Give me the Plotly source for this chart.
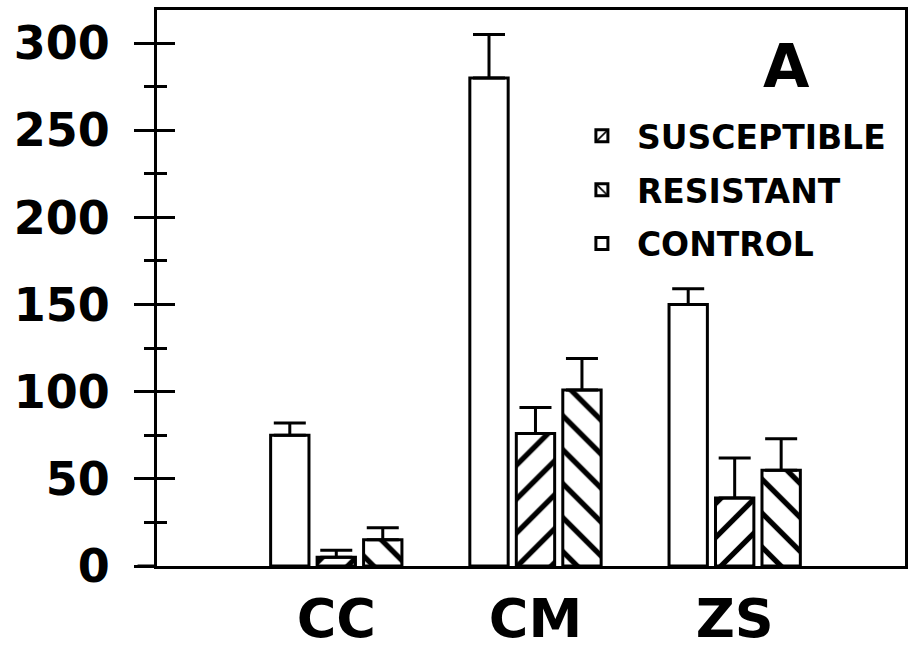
import plotly.graph_objects as go

categories = ["CC", "CM", "ZS"]

control = [75, 280, 150]
control_err = [7, 25, 9]

susceptible = [5, 76, 39]
susceptible_err = [4, 15, 23]

resistant = [15, 101, 55]
resistant_err = [7, 18, 18]

y_ticks = [0, 50, 100, 150, 200, 250, 300]

FONT = "DejaVu Sans"


def err(vals):
    return dict(type="data", array=vals, arrayminus=[0] * len(vals), symmetric=False,
                color="black", thickness=3, width=16)


def hatch(shape):
    return dict(shape=shape, fgcolor="black", bgcolor="white", fgopacity=1,
                size=24, solidity=0.22)


fig = go.Figure()
fig.add_trace(go.Bar(x=categories, y=control, name="CONTROL", legendrank=3, legendgroup="c",
                     marker=dict(color="white", line=dict(color="black", width=3)),
                     error_y=err(control_err)))
fig.add_trace(go.Bar(x=categories, y=susceptible, name="SUSCEPTIBLE", legendrank=1, legendgroup="s",
                     marker=dict(color="white", line=dict(color="black", width=3), pattern=hatch("/")),
                     error_y=err(susceptible_err)))
fig.add_trace(go.Bar(x=categories, y=resistant, name="RESISTANT", legendrank=2, legendgroup="r",
                     marker=dict(color="white", line=dict(color="black", width=3), pattern=hatch("\\")),
                     error_y=err(resistant_err)))
# empty trace so the second y axis (inner tick marks) gets drawn
fig.add_trace(go.Scatter(x=[], y=[], yaxis="y2", showlegend=False, hoverinfo="skip"))

y_range = [0, 319]

fig.update_layout(
    width=919, height=654,
    margin=dict(l=157, r=14, t=10, b=88),
    paper_bgcolor="white", plot_bgcolor="white",
    font=dict(family=FONT, color="black", weight="bold"),
    barmode="group", bargap=0.3, bargroupgap=0.175,
    xaxis=dict(type="category", range=[-0.9, 2.855], showgrid=False, ticks="",
               showline=True, linecolor="black", linewidth=3, mirror=True, automargin=False,
               tickfont=dict(size=54, family=FONT, weight="bold"), ticklabelstandoff=3),
    yaxis=dict(range=y_range, tickvals=y_ticks, showgrid=False, zeroline=False,
               showline=True, linecolor="black", linewidth=3, mirror=True, automargin=False,
               ticks="outside", ticklen=20, tickwidth=3, tickcolor="black",
               minor=dict(dtick=25, ticks="outside", ticklen=10, tickwidth=3, tickcolor="black"),
               tickfont=dict(size=46, family=FONT, weight="bold"), ticklabelstandoff=15),
    yaxis2=dict(range=y_range, overlaying="y", side="left", tickvals=y_ticks, automargin=False,
                showgrid=False, zeroline=False, showticklabels=False,
                ticks="inside", ticklen=18, tickwidth=3, tickcolor="black",
                minor=dict(dtick=25, ticks="inside", ticklen=10, tickwidth=3, tickcolor="black")),
    legend=dict(x=0.548, y=0.824, xanchor="left", yanchor="top", bgcolor="rgba(0,0,0,0)",
                font=dict(size=33, family=FONT, weight="bold"), tracegroupgap=8,
                itemwidth=60),
    showlegend=True,
    annotations=[dict(text="A", x=0.842, y=0.9, xref="paper", yref="paper",
                      xanchor="center", yanchor="middle", showarrow=False,
                      font=dict(size=60, family=FONT, weight="bold"))],
    shapes=[dict(type="line", xref="paper", yref="y", x0=-0.026, x1=0, y0=0, y1=0,
                 line=dict(color="black", width=3))],
)

# drop the browser's default body margin so the figure fills the window exactly
fig.write_html("out.html", config={"displayModeBar": False},
               post_script="document.body.style.margin='0';")
